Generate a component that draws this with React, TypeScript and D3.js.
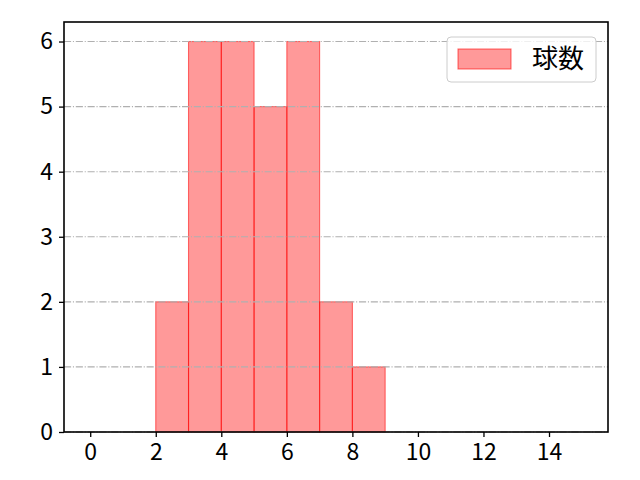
import { useEffect, useRef } from 'react';
import * as d3 from 'd3';

// histogram bins (left edge) and counts
const binStarts = [2, 3, 4, 5, 6, 7, 8];
const binWidth = 1;
const counts = [2, 6, 6, 5, 6, 2, 1];
const xTicks = [0, 2, 4, 6, 8, 10, 12, 14];
const yTicks = [0, 1, 2, 3, 4, 5, 6];
const seriesLabel = '球数';

const App = () => {
  const svgRef = useRef<SVGSVGElement>(null);

  useEffect(() => {
    if (!svgRef.current) return;
    const width = 640;
    const height = 480;
    const margin = { top: 22, right: 32, bottom: 48, left: 64 };
    const innerWidth = width - margin.left - margin.right;
    const innerHeight = height - margin.top - margin.bottom;
    const font = '"Noto Sans CJK JP", "DejaVu Sans", sans-serif';

    const svg = d3.select(svgRef.current);
    svg.selectAll('*').remove();

    const x = d3.scaleLinear().domain([-0.8, 15.8]).range([0, innerWidth]);
    const y = d3.scaleLinear().domain([0, 6.3]).range([innerHeight, 0]);

    const g = svg.append('g').attr('transform', `translate(${margin.left},${margin.top})`);

    // bars
    g.selectAll('.bar')
      .data(binStarts)
      .enter()
      .append('rect')
      .attr('class', 'bar')
      .attr('x', d => x(d))
      .attr('y', (_, i) => y(counts[i]))
      .attr('width', d => x(d + binWidth) - x(d))
      .attr('height', (_, i) => y(0) - y(counts[i]))
      .attr('fill', '#ff0000')
      .attr('fill-opacity', 0.4)
      .attr('stroke', '#ff0000')
      .attr('stroke-opacity', 0.55)
      .attr('stroke-width', 1.1);

    // horizontal grid on top of bars
    g.selectAll('.grid')
      .data(yTicks)
      .enter()
      .append('line')
      .attr('class', 'grid')
      .attr('x1', 0)
      .attr('x2', innerWidth)
      .attr('y1', d => y(d))
      .attr('y2', d => y(d))
      .attr('stroke', '#b0b0b0')
      .attr('stroke-width', 1.1)
      .attr('stroke-dasharray', '7.1,1.8,1.1,1.8');

    // axes
    const xAxis = d3.axisBottom(x).tickValues(xTicks).tickSize(5).tickPadding(7).tickFormat(d3.format('d'));
    const yAxis = d3.axisLeft(y).tickValues(yTicks).tickSize(5).tickPadding(6).tickFormat(d3.format('d'));

    const gx = g.append('g').attr('transform', `translate(0,${innerHeight})`).call(xAxis);
    const gy = g.append('g').call(yAxis);
    [gx, gy].forEach(ax => {
      ax.select('.domain').remove();
      ax.selectAll('line').attr('stroke', '#000').attr('stroke-width', 1.3);
      ax.selectAll('text')
        .attr('fill', '#000')
        .style('font-family', font)
        .style('font-size', '23px');
    });

    // frame
    g.append('rect')
      .attr('width', innerWidth)
      .attr('height', innerHeight)
      .attr('fill', 'none')
      .attr('stroke', '#000')
      .attr('stroke-width', 1.6);

    // legend
    const lg = g.append('g').attr('transform', `translate(${innerWidth - 161},15)`);
    lg.append('rect')
      .attr('width', 149)
      .attr('height', 45)
      .attr('rx', 4)
      .attr('fill', '#fff')
      .attr('fill-opacity', 0.8)
      .attr('stroke', '#cccccc')
      .attr('stroke-width', 1);
    lg.append('rect')
      .attr('x', 11)
      .attr('y', 12)
      .attr('width', 53)
      .attr('height', 20)
      .attr('fill', '#ff0000')
      .attr('fill-opacity', 0.4)
      .attr('stroke', '#ff0000')
      .attr('stroke-opacity', 0.55)
      .attr('stroke-width', 1.1);
    lg.append('text')
      .attr('x', 85)
      .attr('y', 22)
      .attr('dy', '0.36em')
      .style('font-family', font)
      .style('font-size', '26px')
      .text(seriesLabel);
  }, []);

  return <svg ref={svgRef} width={640} height={480} style={{ display: 'block', margin: -8 }}></svg>;
};

export default App;
